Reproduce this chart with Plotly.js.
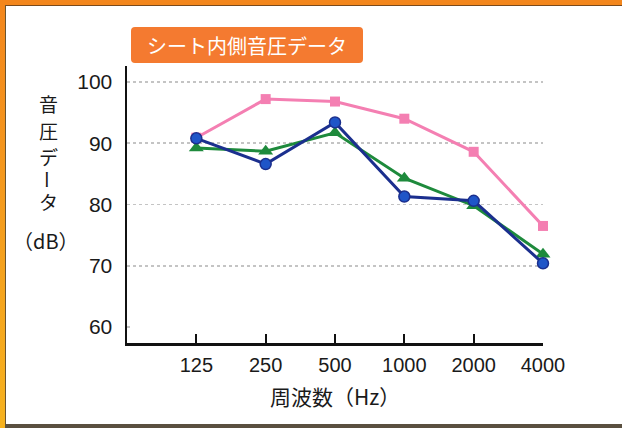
<!DOCTYPE html>
<html>
<head>
<meta charset="utf-8">
<script src="https://cdn.plot.ly/plotly-3.0.1.min.js"></script>
<style>
  html, body { margin: 0; padding: 0; background: #ffffff; }
  #wrap { position: relative; width: 622px; height: 428px; overflow: hidden; background: #ffffff; }
  #chart { position: absolute; left: 0; top: 0; width: 622px; height: 428px; }
  .frame-top { position: absolute; left: 0; top: 0; width: 622px; height: 5px; background: #f3861c; }
  .frame-top-line { position: absolute; left: 5px; top: 5px; width: 617px; height: 1px; background: #7a4a1c; }
  .frame-left { position: absolute; left: 0; top: 0; width: 5px; height: 428px; background: linear-gradient(#f3861c, #f6b21e); }
  .frame-left-line { position: absolute; left: 5px; top: 5px; width: 1px; height: 420px; background: #6b5530; }
  .frame-bottom { position: absolute; left: 5px; top: 424px; width: 617px; height: 4px; background: #5a5040; }
</style>
</head>
<body>
<div id="wrap">
  <div id="chart"></div>
  <div class="frame-top"></div>
  <div class="frame-top-line"></div>
  <div class="frame-left"></div>
  <div class="frame-left-line"></div>
  <div class="frame-bottom"></div>
</div>
<script>
// ---- data ----
const categories = ['125', '250', '500', '1000', '2000', '4000'];
const pinkValues  = [90.9, 97.2, 96.8, 94.0, 88.6, 76.5];
const greenValues = [89.2, 88.7, 91.7, 84.3, 79.8, 71.9];
const blueValues  = [90.8, 86.6, 93.4, 81.3, 80.6, 70.4];
const yTickVals = [60, 70, 80, 90, 100];
const chartTitle = 'シート内側音圧データ';
const xTitle = '周波数（Hz）';
const yTitleChars = ['音', '圧', 'デ', 'ー', 'タ'];
const yTitleUnit = '（dB）';

// ---- geometry helpers (pixel -> paper) ----
const W = 622, H = 428;
const L = 127, R = 543, T = 66, B = 343;
const px = x => (x - L) / (R - L);
const py = y => (B - y) / (B - T);

const jp = '"Noto Sans CJK JP", "Noto Sans", sans-serif';
const num = '"Liberation Sans", Arial, sans-serif';

const traces = [
  {
    x: categories, y: pinkValues, type: 'scatter', mode: 'lines+markers', cliponaxis: false,
    line: { color: '#f47fb2', width: 3 },
    marker: { symbol: 'square', size: 10, color: '#f47fb2' },
    hoverinfo: 'skip'
  },
  {
    x: categories, y: greenValues, type: 'scatter', mode: 'lines+markers', cliponaxis: false,
    line: { color: '#1e8a3c', width: 3 },
    marker: { symbol: 'triangle-up', size: 13, color: '#1e8a3c' },
    hoverinfo: 'skip'
  },
  {
    x: categories, y: blueValues, type: 'scatter', mode: 'lines+markers', cliponaxis: false,
    line: { color: '#1b2f8e', width: 3 },
    marker: { symbol: 'circle', size: 11, color: '#1f55c8', line: { color: '#1b2f8e', width: 1.5 } },
    hoverinfo: 'skip'
  }
];

// rounded rectangle for title box
function roundRect(x0, y0, x1, y1, r) {
  const rx = r / (R - L), ry = r / (B - T);
  const a = px(x0), b = px(x1), top = py(y0), bot = py(y1);
  return `M ${a + rx},${bot} L ${b - rx},${bot} Q ${b},${bot} ${b},${bot + ry} ` +
         `L ${b},${top - ry} Q ${b},${top} ${b - rx},${top} L ${a + rx},${top} ` +
         `Q ${a},${top} ${a},${top - ry} L ${a},${bot + ry} Q ${a},${bot} ${a + rx},${bot} Z`;
}

const annotations = [
  {
    xref: 'paper', yref: 'paper', x: px(247), y: py(45), xanchor: 'center', yanchor: 'middle',
    text: chartTitle, showarrow: false, font: { family: jp, size: 20, color: '#ffffff' }
  },
  {
    xref: 'paper', yref: 'paper', x: px(335), y: py(396), xanchor: 'center', yanchor: 'middle',
    text: xTitle, showarrow: false, font: { family: jp, size: 21, color: '#1a1a1a' }
  }
];
const charY = [103, 130, 156, 179, 201];
yTitleChars.forEach((c, i) => {
  annotations.push({
    xref: 'paper', yref: 'paper', x: px(48), y: py(charY[i]), xanchor: 'center', yanchor: 'middle',
    text: c, showarrow: false, textangle: (c === 'ー') ? 90 : 0, borderpad: 0,
    font: { family: jp, size: 19, color: '#1a1a1a' }
  });
});
annotations.push({
  xref: 'paper', yref: 'paper', x: px(46), y: py(240), xanchor: 'center', yanchor: 'middle',
  text: yTitleUnit, showarrow: false, font: { family: jp, size: 20, color: '#1a1a1a' }
});

const layout = {
  width: W, height: H,
  margin: { l: L, r: W - R, t: T, b: H - B, pad: 0 },
  paper_bgcolor: 'rgba(0,0,0,0)', plot_bgcolor: 'rgba(0,0,0,0)',
  showlegend: false,
  xaxis: {
    type: 'category', range: [-1, 5],
    showline: true, linecolor: '#111', linewidth: 2.5,
    ticks: 'inside', ticklen: 9, tickwidth: 2, tickcolor: '#111',
    showgrid: false, zeroline: false,
    tickfont: { family: num, size: 20, color: '#1a1a1a' },
    ticklabelstandoff: 2,
    fixedrange: true
  },
  yaxis: {
    range: [57.4, 102.6],
    tickvals: yTickVals,
    showline: true, linecolor: '#111', linewidth: 2.5,
    ticks: '', showgrid: true, gridcolor: '#c4c4c4', gridwidth: 1.5, griddash: 'dot',
    zeroline: false,
    tickfont: { family: num, size: 21, color: '#1a1a1a' },
    ticklabelstandoff: 8,
    fixedrange: true
  },
  shapes: [
    {
      type: 'path', xref: 'paper', yref: 'paper',
      path: roundRect(131, 27, 363, 63, 4),
      fillcolor: '#f47a30', line: { width: 0 }, layer: 'below'
    },
    {
      // hide 60 gridline (reference has no gridline at 60)
      type: 'line', xref: 'paper', yref: 'y', x0: 0.008, x1: 1.0, y0: 60, y1: 60,
      line: { color: '#ffffff', width: 4 }, layer: 'above'
    }
  ],
  annotations: annotations
};

Plotly.newPlot('chart', traces, layout, { staticPlot: true, displayModeBar: false });
</script>
</body>
</html>
